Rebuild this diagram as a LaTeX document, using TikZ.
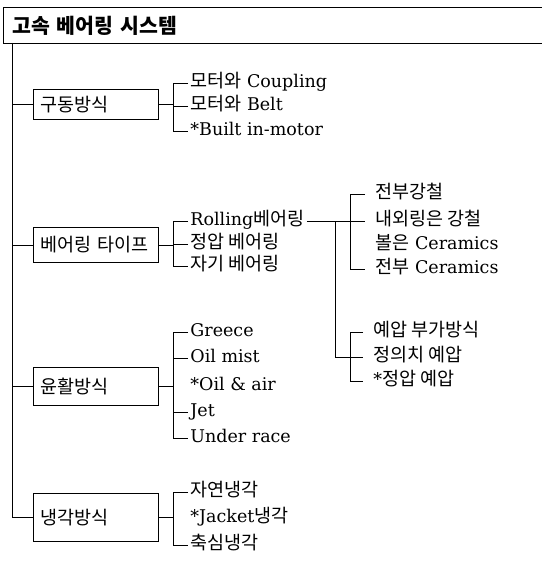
\documentclass[tikz,border=0pt]{standalone}
\usepackage{fontspec}
\setmainfont{DejaVu Serif}
\newfontfamily\kr{Noto Sans CJK KR}
\newcommand{\hg}[1]{{\kr\fontsize{18.5}{20}\selectfont #1}}
\begin{document}
\begin{tikzpicture}[x=1pt,y=-1pt,line width=0.8pt,
  titlebox/.style={draw,anchor=north west,minimum height=36pt,text width=539pt,inner xsep=9pt,inner ysep=0pt,align=left,font=\kr\bfseries\fontsize{20.5}{23}\selectfont},
  catbox/.style={draw,anchor=north west,text width=111pt,inner xsep=7pt,inner ysep=0pt,align=left,font=\kr\fontsize{18.5}{21}\selectfont},
  item/.style={anchor=west,inner xsep=2pt,inner ysep=1pt,text height=13pt,text depth=4pt,font=\fontsize{17.5}{20}\selectfont},
  itemR/.style={item,inner xsep=10pt}]
\useasboundingbox (0,0) rectangle (541,564);

% title
\node[titlebox] (title) at (3,7) {고속 베어링 시스템};
\coordinate (top) at (12,43);

% category boxes
\node[catbox,minimum height=30pt] (b1) at (33,89) {구동방식};
\node[catbox,minimum height=35pt] (b2) at (33,227) {\mbox{베어링 타이프}};
\node[catbox,minimum height=38pt] (b3) at (33,367) {윤활방식};
\node[catbox,minimum height=48pt] (b4) at (33,493) {냉각방식};

% main spine
\draw (top) |- (b4.west);
\draw (b1.west -| top) -- (b1.west);
\draw (b2.west -| top) -- (b2.west);
\draw (b3.west -| top) -- (b3.west);

% bracket x positions
\coordinate (kL) at (173,0);
\coordinate (kA) at (350,0);
\coordinate (kV) at (335,0);

% group 1
\node[item] (g11) at (188,83) {\hg{모터와} Coupling};
\node[item] (g12) at (188,106) {\hg{모터와} Belt};
\node[item] (g13) at (188,131) {*Built in-motor};
\draw (g11.west) -| (kL |- g13.west) -- (g13.west);
\draw (g12.west) -- (g12.west -| kL);
\draw (b1.east) -- (b1.east -| kL);

% group 2
\node[item] (g21) at (188,221) {Rolling\hg{베어링}};
\node[item] (g22) at (188,244) {\hg{정압 베어링}};
\node[item] (g23) at (188,266) {\hg{자기 베어링}};
\draw (g21.west) -| (kL |- g23.west) -- (g23.west);
\draw (g22.west) -- (g22.west -| kL);
\draw (b2.east) -- (b2.east -| kL);

% group 3
\node[item] (g31) at (188,332) {Greece};
\node[item] (g32) at (188,358) {Oil mist};
\node[item] (g33) at (188,386) {*Oil \& air};
\node[item] (g34) at (188,412) {Jet};
\node[item] (g35) at (188,438) {Under race};
\draw (g31.west) -| (kL |- g35.west) -- (g35.west);
\draw (g32.west) -- (g32.west -| kL);
\draw (g34.west) -- (g34.west -| kL);
\draw (b3.east) -- (b3.east -| kL);

% group 4
\node[item] (g41) at (188,492) {\hg{자연냉각}};
\node[item] (g42) at (188,518) {*Jacket\hg{냉각}};
\node[item] (g43) at (188,545) {\hg{축심냉각}};
\draw (g41.west) -| (kL |- g43.west) -- (g43.west);
\draw (b4.east) -- (b4.east -| kL);

% rolling sub-group A
\node[itemR] (a1) at (365,194) {\hg{전부강철}};
\node[itemR] (a2) at (365,221) {\hg{내외링은 강철}};
\node[itemR] (a3) at (365,245) {\hg{볼은} Ceramics};
\node[itemR] (a4) at (365,269) {\hg{전부} Ceramics};
\draw (a1.west) -| (kA |- a4.west) -- (a4.west);
\draw (g21.east) -- (a2.west);

% preload sub-group B
\node[itemR] (p1) at (363,332) {\hg{예압 부가방식}};
\node[itemR] (p2) at (363,357) {\hg{정의치 예압}};
\node[itemR] (p3) at (363,381) {*\hg{정압 예압}};
\draw (p1.west) -| (kA |- p3.west) -- (p3.west);
\draw (g21.east -| kV) |- (p2.west);
\end{tikzpicture}
\end{document}
